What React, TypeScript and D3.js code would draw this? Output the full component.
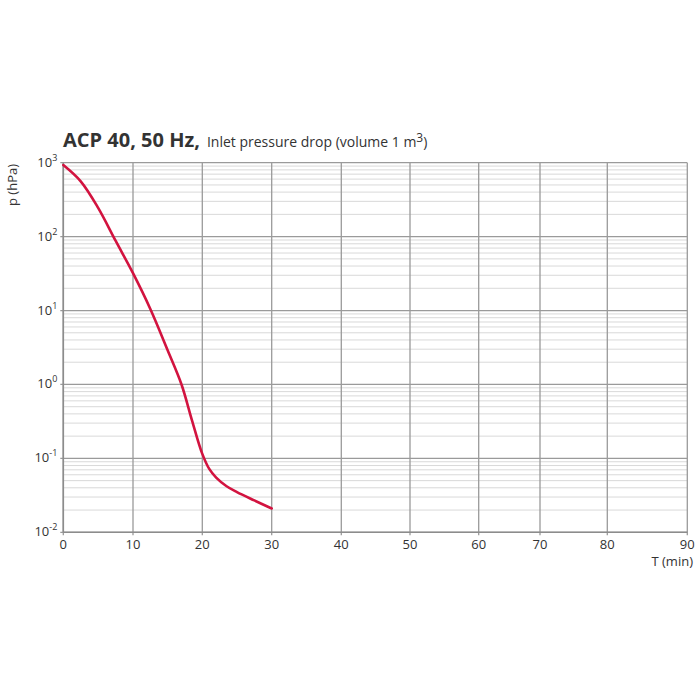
import * as d3 from 'd3'

// grid columns as drawn in the source (spacing is not quite even)
const timeTicks = [0, 10, 20, 30, 40, 50, 60, 70, 80, 90]
const timeTickPx = [63.3, 133, 202.3, 271.7, 341.3, 410, 478.7, 540, 607.3, 687.3]
const decades = [-2, -1, 0, 1, 2, 3]

// inlet pressure drop curve
const curveTime = [0, 2.5, 5, 7.5, 10, 12.5, 15, 17, 18.5, 20, 21, 22, 23.5, 25, 27.5, 30]
const curvePressure = [930, 560, 245, 88, 32, 10.5, 2.9, 1.0, 0.33, 0.115, 0.072, 0.055, 0.042, 0.035, 0.027, 0.021]

export default function App() {
  const width = 700
  const height = 700
  const top = 162.7
  const bottom = 532.3
  const left = timeTickPx[0]
  const right = timeTickPx[timeTickPx.length - 1]
  const font = '"Open Sans", "DejaVu Sans", sans-serif'

  const x = d3.scaleLinear().domain(timeTicks).range(timeTickPx)
  const y = d3.scaleLog().domain([0.01, 1000]).range([bottom, top])

  const minorTicks: number[] = []
  decades.slice(0, -1).forEach((d) => {
    for (let m = 2; m <= 9; m++) minorTicks.push(m * Math.pow(10, d))
  })

  const points = curveTime.map((t, i) => [t, curvePressure[i]] as [number, number])
  const line = d3
    .line<[number, number]>()
    .x((d) => x(d[0]))
    .y((d) => y(d[1]))
    .curve(d3.curveCatmullRom.alpha(0.5))

  return (
    <svg
      width={width}
      height={height}
      viewBox={`0 0 ${width} ${height}`}
      style={{ position: 'absolute', left: 0, top: 0, background: '#fff' }}
      fontFamily={font}
    >
      {minorTicks.map((v) => (
        <line key={`m${v}`} x1={left} x2={right} y1={y(v)} y2={y(v)} stroke="#d9d9d9" strokeWidth="1" />
      ))}

      {timeTicks.map((t) => (
        <g key={`x${t}`}>
          <line x1={x(t)} x2={x(t)} y1={top} y2={bottom + 3} stroke="#9a9a9a" strokeWidth="1.3" />
          <text x={x(t)} y={bottom + 17} textAnchor="middle" fontSize="13" fill="#333">
            {t}
          </text>
        </g>
      ))}

      {decades.map((d) => (
        <g key={`y${d}`}>
          <line x1={left - 3} x2={right} y1={y(Math.pow(10, d))} y2={y(Math.pow(10, d))} stroke="#9a9a9a" strokeWidth="1.3" />
          <text x={left - 6} y={y(Math.pow(10, d)) + 4} textAnchor="end" fontSize="13" fill="#333">
            10
            <tspan fontSize="9" dy="-6">
              {d}
            </tspan>
          </text>
        </g>
      ))}

      <line x1={left} x2={right} y1={bottom} y2={bottom} stroke="#8c8c8c" strokeWidth="1.6" />
      <line x1={left} x2={left} y1={top} y2={bottom} stroke="#8c8c8c" strokeWidth="1.6" />

      <path d={line(points) ?? ''} fill="none" stroke="#d2133f" strokeWidth="2.6" strokeLinecap="round" />

      <text x={63} y={147} fill="#333">
        <tspan fontSize="20" fontWeight="bold">
          ACP 40, 50 Hz,
        </tspan>
        <tspan fontSize="14" dx="7">
          Inlet pressure drop (volume 1 m
        </tspan>
        <tspan fontSize="12" dy="-5">
          3
        </tspan>
        <tspan fontSize="14" dy="5">
          )
        </tspan>
      </text>

      <text
        transform="translate(17,185) rotate(-90)"
        textAnchor="middle"
        fontSize="13"
        fill="#333"
      >
        p (hPa)
      </text>

      <text x={693} y={566} textAnchor="end" fontSize="13" fill="#333">
        T (min)
      </text>
    </svg>
  )
}
